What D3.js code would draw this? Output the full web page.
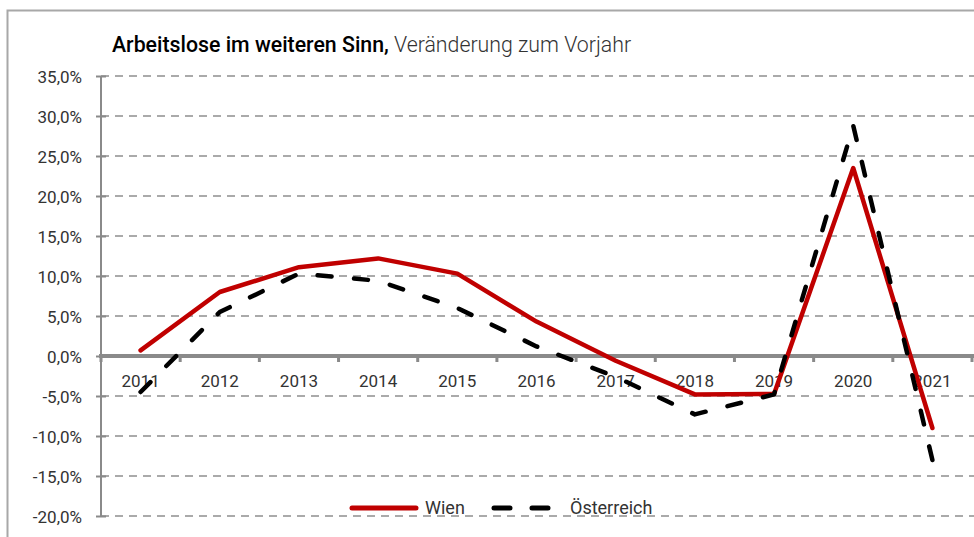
<!DOCTYPE html>
<html><head><meta charset="utf-8">
<script src="https://cdn.jsdelivr.net/npm/d3@7"></script>
<style>body{margin:0;background:#fff}svg{display:block}text{font-family:Roboto,"Open Sans",sans-serif}</style>
</head><body>
<svg id="c" width="974" height="537"></svg>
<script>
const years = ["2011","2012","2013","2014","2015","2016","2017","2018","2019","2020","2021"];
const wien = [0.7, 8.0, 11.1, 12.2, 10.3, 4.3, -0.6, -4.8, -4.75, 23.5, -9.0];
const oesterreich = [-4.5, 5.5, 10.3, 9.4, 6.0, 1.2, -2.6, -7.3, -4.8, 28.8, -13.0];
const yTicks = [35, 30, 25, 20, 15, 10, 5, 0, -5, -10, -15, -20];
const seriesNames = ["Wien", "Österreich"];
const titleBold = "Arbeitslose im weiteren Sinn,";
const titleRest = " Veränderung zum Vorjahr";

const svg = d3.select("#c");
const x = d3.scaleBand().domain(years).range([101, 972]);
const y = d3.scaleLinear().domain([-20, 35]).range([516, 76]);
const fmt = v => v.toFixed(1).replace(".", ",") + "%";

// frame
svg.append("path").attr("d", "M7.5,537 V10.5 H974").attr("fill", "none")
  .attr("stroke", "#a8a8a8").attr("stroke-width", 2);

// title
const t = svg.append("text").attr("x", 112).attr("y", 52).attr("font-size", 21.3).attr("fill", "#000");
t.append("tspan").attr("font-weight", 500).text(titleBold);
t.append("tspan").attr("fill", "#333").attr("font-weight", 300).text(titleRest);

// gridlines
svg.append("g").selectAll("line").data(yTicks.filter(d => d !== 0)).join("line")
  .attr("x1", 101).attr("x2", 974).attr("y1", d => y(d)).attr("y2", d => y(d))
  .attr("stroke", "#8f8f8f").attr("stroke-width", 1.6).attr("stroke-dasharray", "8,6");

// y axis
const ya = svg.append("g").attr("transform", "translate(101,0)")
  .call(d3.axisLeft(y).tickValues(yTicks).tickFormat(fmt).tickSize(5).tickPadding(14));
ya.select(".domain").remove();
ya.selectAll(".tick line").attr("x1", -5).attr("x2", 5).attr("stroke", "#8a8a8a").attr("stroke-width", 2);
ya.selectAll(".tick text").attr("font-size", 17).attr("fill", "#333").attr("font-family", "Roboto").attr("dy", "0.36em");
svg.append("line").attr("x1", 101).attr("x2", 101).attr("y1", y(35)).attr("y2", y(-20))
  .attr("stroke", "#8a8a8a").attr("stroke-width", 2);

// zero axis
const bounds = years.map(d => x(d)).concat([x.range()[1]]);
svg.append("g").selectAll("line").data(bounds).join("line")
  .attr("x1", d => d).attr("x2", d => d).attr("y1", y(0)).attr("y2", y(0) + 6)
  .attr("stroke", "#8a8a8a").attr("stroke-width", 3);
svg.append("line").attr("x1", 99).attr("x2", 974).attr("y1", y(0)).attr("y2", y(0))
  .attr("stroke", "#8a8a8a").attr("stroke-width", 4);
svg.append("g").selectAll("text").data(years).join("text")
  .attr("x", d => x(d) + x.bandwidth() / 2).attr("y", 387).attr("text-anchor", "middle")
  .attr("font-size", 17).attr("fill", "#333").text(d => d);

// lines
const line = d3.line().x((d, i) => x(years[i]) + x.bandwidth() / 2).y(d => y(d));
svg.append("path").datum(wien).attr("d", line).attr("fill", "none")
  .attr("stroke", "#c00000").attr("stroke-width", 4.5).attr("stroke-linejoin", "round").attr("stroke-linecap", "round");
const op = svg.append("path").datum(oesterreich).attr("d", line).attr("fill", "none")
  .attr("stroke", "#000").attr("stroke-width", 4.5)
  .attr("stroke-linejoin", "round").attr("stroke-linecap", "round");
// fit dash pattern so that the line starts and ends on a dash
const L = op.node().getTotalLength();
const dash = 14;
const n = Math.round((L - dash) / 37);
const gap = (L - dash) / n - dash;
op.attr("stroke-dasharray", dash + "," + gap);

// legend
const lg = svg.append("g");
lg.append("line").attr("x1", 352).attr("x2", 416).attr("y1", 508).attr("y2", 508)
  .attr("stroke", "#c00000").attr("stroke-width", 5).attr("stroke-linecap", "round");
lg.append("text").attr("x", 425).attr("y", 514).attr("font-size", 18).attr("fill", "#333").text(seriesNames[0]);
lg.append("line").attr("x1", 494).attr("x2", 560).attr("y1", 508).attr("y2", 508)
  .attr("stroke", "#000").attr("stroke-width", 5).attr("stroke-linecap", "round").attr("stroke-dasharray", "16,22");
lg.append("text").attr("x", 570).attr("y", 514).attr("font-size", 18).attr("fill", "#333").text(seriesNames[1]);
</script>
</body></html>
